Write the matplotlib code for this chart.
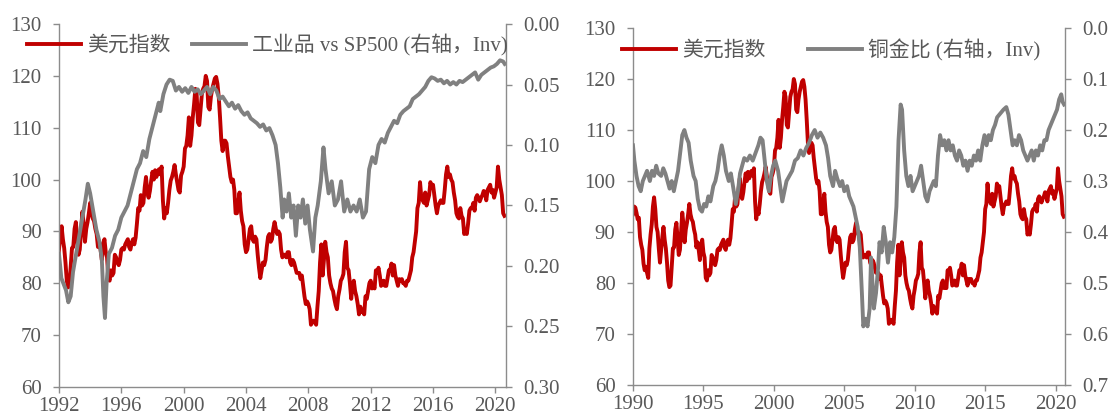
import numpy as np
import matplotlib
matplotlib.use("Agg")
import matplotlib.pyplot as plt
from matplotlib.font_manager import FontProperties
from matplotlib.ticker import FormatStrFormatter, FixedLocator

# US dollar index, monthly values starting January 1990
dxy_start = 1990.0
dxy_values = [
    93.5, 95.0, 94.8, 93.8, 92.5, 92.8, 89.0, 87.5, 86.5, 83.8, 82.5, 83.2,
    82.0, 81.0, 86.8, 89.5, 91.5, 95.0, 96.8, 94.5, 91.0, 90.0, 86.8, 84.0,
    86.5, 89.0, 91.0, 88.5, 86.8, 84.0, 80.5, 79.2, 79.5, 83.0, 86.8, 87.0,
    90.5, 91.8, 88.5, 85.5, 86.5, 90.0, 93.8, 91.5, 88.0, 90.5, 91.8, 93.5,
    95.5, 93.5, 92.5, 92.0, 90.5, 89.5, 87.0, 88.0, 86.5, 84.5, 87.5, 88.5,
    86.0, 85.0, 81.0, 80.5, 82.5, 81.5, 82.0, 85.5, 85.0, 84.0, 83.5, 84.5,
    86.5, 86.8, 86.5, 87.5, 88.0, 88.5, 87.0, 86.5, 87.8, 88.5, 87.5, 88.8,
    91.5, 94.5, 94.0, 97.0, 95.0, 95.5, 98.5, 100.5, 97.5, 96.5, 97.8, 99.8,
    101.5, 100.0, 101.8, 100.5, 101.5, 102.0, 101.0, 102.5, 96.0, 92.5, 94.5, 93.5,
    95.5, 98.0, 99.8, 100.5, 101.5, 102.8, 101.0, 99.5, 98.0, 97.5, 100.8, 101.5,
    102.5, 106.0, 106.5, 108.5, 112.0, 106.5, 108.5, 112.0, 114.5, 117.5, 116.5, 111.0,
    110.5, 113.5, 116.5, 117.5, 118.0, 120.0, 119.0, 114.0, 113.5, 116.0, 117.5, 118.5,
    119.5, 119.8, 118.5, 116.0, 112.0, 107.5, 105.5, 107.5, 107.5, 107.0, 104.5, 102.5,
    100.5, 99.5, 100.0, 98.0, 93.5, 93.5, 95.5, 97.5, 94.0, 92.0, 91.0, 87.5,
    86.0, 86.5, 88.5, 90.5, 91.0, 88.5, 88.0, 89.0, 88.5, 85.5, 83.0, 81.0,
    82.5, 84.0, 83.5, 84.5, 87.0, 89.0, 89.5, 88.0, 88.5, 90.5, 91.8, 90.5,
    89.5, 90.0, 89.5, 86.5, 85.0, 85.5, 85.5, 85.0, 86.0, 86.0, 84.0, 83.5,
    84.5, 84.0, 83.0, 82.0, 82.0, 82.0, 80.8, 81.5, 79.5, 77.5, 76.0, 76.5,
    76.0, 75.0, 72.0, 72.5, 72.8, 72.5, 72.0, 75.5, 78.5, 84.0, 87.5, 81.5,
    84.5, 88.0, 86.0, 85.0, 81.5, 80.0, 79.0, 78.5, 77.0, 75.8, 75.0, 77.5,
    78.8, 80.5, 81.0, 81.8, 86.0, 88.0, 83.0, 82.5, 80.0, 77.0, 79.5, 80.5,
    78.5, 77.5, 76.0, 74.0, 75.5, 74.5, 74.5, 74.0, 77.5, 77.0, 78.5, 80.0,
    80.5, 79.0, 79.5, 79.0, 82.5, 82.0, 83.0, 81.5, 79.5, 79.8, 80.5, 79.5,
    79.5, 81.0, 82.5, 82.5, 83.8, 81.5, 83.5, 81.5, 80.5, 79.5, 80.8, 80.5,
    80.8, 80.0, 80.0, 79.5, 80.5, 80.5, 81.5, 82.5, 85.0, 86.0, 88.0, 90.0,
    94.5, 95.5, 99.5, 96.5, 96.0, 95.5, 97.5, 95.0, 96.0, 97.0, 99.5, 98.5,
    99.0, 97.0, 95.0, 93.5, 95.0, 95.5, 96.0, 95.5, 95.5, 98.0, 101.0, 102.5,
    100.5, 101.0, 100.0, 99.5, 97.5, 96.0, 93.5, 92.8, 92.5, 94.5, 93.0, 92.5,
    89.5, 90.0, 89.5, 91.5, 94.0, 94.5, 94.5, 95.5, 94.0, 96.5, 97.0, 96.5,
    95.8, 96.5, 97.0, 97.8, 97.5, 96.0, 98.0, 98.5, 99.0, 97.5, 98.0, 96.5,
    97.5, 98.5, 102.5, 100.0, 98.5, 97.0, 93.5, 93.0,
]

# Industrial metals relative to the S&P 500 (right axis, inverted)
ind_years = [
    1992.0, 1992.15, 1992.3, 1992.45, 1992.6, 1992.75, 1992.9, 1993.1, 1993.3, 1993.5,
    1993.7, 1993.85, 1994.0, 1994.2, 1994.4, 1994.6, 1994.75, 1994.85, 1994.95, 1995.05,
    1995.2, 1995.4, 1995.6, 1995.8, 1996.0, 1996.2, 1996.4, 1996.6, 1996.8, 1997.0,
    1997.2, 1997.4, 1997.6, 1997.8, 1998.0, 1998.2, 1998.4, 1998.5, 1998.7, 1998.9,
    1999.1, 1999.3, 1999.5, 1999.7, 1999.9, 2000.1, 2000.3, 2000.5, 2000.7, 2000.9,
    2001.1, 2001.3, 2001.5, 2001.7, 2001.9, 2002.1, 2002.3, 2002.5, 2002.7, 2002.9,
    2003.1, 2003.3, 2003.5, 2003.7, 2003.9, 2004.1, 2004.3, 2004.5, 2004.7, 2004.9,
    2005.1, 2005.3, 2005.5, 2005.7, 2005.9, 2006.05, 2006.2, 2006.35, 2006.45, 2006.6,
    2006.75, 2006.9, 2007.05, 2007.2, 2007.35, 2007.5, 2007.65, 2007.8, 2007.95, 2008.1,
    2008.3, 2008.45, 2008.6, 2008.8, 2008.97, 2009.1, 2009.3, 2009.5, 2009.7, 2009.9,
    2010.1, 2010.3, 2010.5, 2010.7, 2010.9, 2011.1, 2011.3, 2011.5, 2011.7, 2011.9,
    2012.1, 2012.3, 2012.5, 2012.7, 2012.9, 2013.1, 2013.3, 2013.5, 2013.7, 2013.9,
    2014.1, 2014.3, 2014.5, 2014.7, 2014.9, 2015.1, 2015.3, 2015.5, 2015.7, 2015.9,
    2016.1, 2016.3, 2016.5, 2016.7, 2016.9, 2017.1, 2017.3, 2017.5, 2017.7, 2017.9,
    2018.1, 2018.3, 2018.5, 2018.7, 2018.9, 2019.1, 2019.3, 2019.5, 2019.7, 2019.9,
    2020.1, 2020.3, 2020.5, 2020.6,
]
ind_ratio = [
    0.190, 0.210, 0.215, 0.220, 0.230, 0.225, 0.205, 0.190, 0.175, 0.160,
    0.145, 0.132, 0.140, 0.155, 0.170, 0.180, 0.195, 0.225, 0.243, 0.215,
    0.190, 0.185, 0.175, 0.170, 0.160, 0.155, 0.150, 0.140, 0.130, 0.120,
    0.115, 0.105, 0.110, 0.095, 0.085, 0.075, 0.065, 0.072, 0.058, 0.050,
    0.046, 0.047, 0.055, 0.052, 0.056, 0.053, 0.057, 0.052, 0.056, 0.054,
    0.058, 0.055, 0.052, 0.058, 0.052, 0.055, 0.062, 0.060, 0.064, 0.068,
    0.065, 0.070, 0.067, 0.072, 0.075, 0.073, 0.078, 0.080, 0.082, 0.085,
    0.083, 0.088, 0.086, 0.092, 0.100, 0.115, 0.135, 0.160, 0.145, 0.155,
    0.140, 0.160, 0.150, 0.175, 0.150, 0.160, 0.145, 0.165, 0.150, 0.170,
    0.188, 0.160, 0.150, 0.130, 0.102, 0.120, 0.140, 0.130, 0.150, 0.145,
    0.130, 0.155, 0.145, 0.155, 0.150, 0.155, 0.145, 0.160, 0.155, 0.120,
    0.110, 0.115, 0.100, 0.095, 0.098, 0.090, 0.085, 0.080, 0.082, 0.075,
    0.072, 0.070, 0.068, 0.062, 0.060, 0.058, 0.055, 0.052, 0.047, 0.044,
    0.045, 0.047, 0.046, 0.049, 0.047, 0.050, 0.048, 0.050, 0.047, 0.048,
    0.046, 0.044, 0.042, 0.040, 0.046, 0.042, 0.040, 0.038, 0.036, 0.035,
    0.033, 0.030, 0.031, 0.033,
]

# Copper / gold ratio (right axis, inverted)
cg_years = [
    1990.0, 1990.1, 1990.25, 1990.4, 1990.55, 1990.7, 1990.85, 1991.0, 1991.2, 1991.35,
    1991.5, 1991.65, 1991.8, 1992.0, 1992.15, 1992.3, 1992.45, 1992.6, 1992.75, 1992.9,
    1993.05, 1993.2, 1993.35, 1993.5, 1993.65, 1993.8, 1993.95, 1994.1, 1994.3, 1994.45,
    1994.6, 1994.75, 1994.9, 1995.05, 1995.2, 1995.35, 1995.5, 1995.7, 1995.85, 1996.0,
    1996.15, 1996.3, 1996.45, 1996.6, 1996.8, 1996.95, 1997.1, 1997.3, 1997.45, 1997.6,
    1997.75, 1997.9, 1998.1, 1998.3, 1998.5, 1998.7, 1998.9, 1999.05, 1999.2, 1999.35,
    1999.5, 1999.65, 1999.8, 1999.95, 2000.1, 2000.3, 2000.45, 2000.6, 2000.75, 2000.9,
    2001.1, 2001.3, 2001.5, 2001.7, 2001.9, 2002.1, 2002.3, 2002.5, 2002.7, 2002.9,
    2003.1, 2003.3, 2003.5, 2003.7, 2003.85, 2004.0, 2004.2, 2004.35, 2004.5, 2004.7,
    2004.85, 2005.0, 2005.2, 2005.35, 2005.5, 2005.65, 2005.8, 2005.95, 2006.1, 2006.25,
    2006.35, 2006.5, 2006.65, 2006.8, 2006.9, 2007.0, 2007.1, 2007.25, 2007.4, 2007.5,
    2007.65, 2007.8, 2007.95, 2008.1, 2008.25, 2008.4, 2008.55, 2008.7, 2008.85, 2009.0,
    2009.1, 2009.25, 2009.4, 2009.55, 2009.7, 2009.85, 2010.0, 2010.15, 2010.3, 2010.45,
    2010.6, 2010.75, 2010.9, 2011.05, 2011.2, 2011.35, 2011.5, 2011.65, 2011.8, 2011.95,
    2012.1, 2012.25, 2012.4, 2012.55, 2012.7, 2012.85, 2013.0, 2013.15, 2013.3, 2013.45,
    2013.6, 2013.75, 2013.9, 2014.05, 2014.2, 2014.35, 2014.5, 2014.65, 2014.8, 2014.95,
    2015.1, 2015.25, 2015.4, 2015.55, 2015.7, 2015.85, 2016.0, 2016.15, 2016.3, 2016.5,
    2016.65, 2016.8, 2016.95, 2017.1, 2017.25, 2017.4, 2017.55, 2017.7, 2017.85, 2018.0,
    2018.15, 2018.3, 2018.45, 2018.6, 2018.75, 2018.9, 2019.05, 2019.2, 2019.35, 2019.5,
    2019.65, 2019.8, 2019.95, 2020.1, 2020.25, 2020.4, 2020.5, 2020.6,
]
cg_ratio = [
    0.230, 0.260, 0.290, 0.310, 0.320, 0.300, 0.290, 0.280, 0.300, 0.280,
    0.290, 0.270, 0.285, 0.290, 0.275, 0.285, 0.300, 0.315, 0.300, 0.320,
    0.300, 0.280, 0.245, 0.210, 0.200, 0.215, 0.225, 0.260, 0.290, 0.300,
    0.335, 0.355, 0.360, 0.345, 0.350, 0.330, 0.340, 0.310, 0.300, 0.280,
    0.250, 0.230, 0.250, 0.280, 0.300, 0.285, 0.310, 0.345, 0.320, 0.285,
    0.270, 0.255, 0.260, 0.250, 0.260, 0.245, 0.230, 0.215, 0.220, 0.260,
    0.300, 0.320, 0.290, 0.270, 0.260, 0.280, 0.310, 0.340, 0.320, 0.300,
    0.290, 0.280, 0.260, 0.255, 0.240, 0.250, 0.235, 0.225, 0.210, 0.200,
    0.215, 0.205, 0.215, 0.230, 0.255, 0.290, 0.310, 0.280, 0.295, 0.310,
    0.300, 0.320, 0.310, 0.330, 0.340, 0.350, 0.370, 0.390, 0.430, 0.520,
    0.585, 0.570, 0.585, 0.550, 0.450, 0.500, 0.550, 0.520, 0.470, 0.420,
    0.440, 0.390, 0.420, 0.460, 0.420, 0.440, 0.410, 0.350, 0.220, 0.150,
    0.160, 0.240, 0.290, 0.310, 0.290, 0.320, 0.310, 0.300, 0.290, 0.270,
    0.300, 0.330, 0.340, 0.320, 0.310, 0.300, 0.310, 0.250, 0.210, 0.230,
    0.220, 0.240, 0.220, 0.240, 0.230, 0.250, 0.260, 0.240, 0.250, 0.270,
    0.260, 0.280, 0.260, 0.270, 0.250, 0.260, 0.240, 0.260, 0.230, 0.210,
    0.230, 0.210, 0.220, 0.200, 0.190, 0.175, 0.170, 0.165, 0.160, 0.155,
    0.170, 0.200, 0.230, 0.220, 0.230, 0.210, 0.220, 0.240, 0.250, 0.260,
    0.250, 0.240, 0.260, 0.240, 0.250, 0.230, 0.240, 0.220, 0.220, 0.200,
    0.190, 0.180, 0.170, 0.160, 0.140, 0.130, 0.145, 0.150,
]

legend_dxy = "美元指数"
legend_ind = "工业品 vs SP500 (右轴，Inv)"
legend_cg = "铜金比 (右轴，Inv)"

RED = "#C00000"
GRAY = "#808080"
TEXT = "#595959"
SPINE = "#8C8C8C"
LW = 2.8
FS = 15

plt.rcParams["font.family"] = ["Liberation Serif", "Noto Sans CJK SC", "DejaVu Sans"]

dxy_x = dxy_start + np.arange(len(dxy_values)) / 12.0
dxy_y = np.array(dxy_values)

fig = plt.figure(figsize=(11.13, 4.19), dpi=100)


def style_axes(ax, ax2, xticks, right_ticks, right_fmt, xlim, right_lim):
    ax.set_xlim(*xlim)
    ax.set_ylim(60, 130)
    ax.yaxis.set_major_locator(FixedLocator(np.arange(60, 131, 10)))
    ax.xaxis.set_major_locator(FixedLocator(xticks))
    ax.set_xticklabels([str(t) for t in xticks])
    ax2.set_ylim(*right_lim)
    ax2.yaxis.set_major_locator(FixedLocator(right_ticks))
    ax2.yaxis.set_major_formatter(FormatStrFormatter(right_fmt))
    for a in (ax, ax2):
        for s in a.spines.values():
            s.set_color(SPINE)
            s.set_linewidth(1.0)
        a.spines["top"].set_visible(False)
    ax.spines["right"].set_visible(False)
    ax2.spines["left"].set_visible(False)
    ax2.spines["bottom"].set_visible(False)
    ax.tick_params(axis="y", direction="out", length=4.5, width=1.0, color=SPINE,
                   labelcolor=TEXT, labelsize=FS, pad=8)
    ax.tick_params(axis="x", direction="out", length=4, width=1.0, color=SPINE,
                   labelcolor=TEXT, labelsize=FS, pad=3.5)
    ax2.tick_params(axis="y", direction="out", length=4.5, width=1.0, color=SPINE,
                    labelcolor=TEXT, labelsize=FS, pad=8)


# Left panel: dollar index vs industrial metals / S&P 500
axL = fig.add_axes([0.053, 0.0764, 0.4016, 0.8663])
axL2 = axL.twinx()
l1, = axL.plot(dxy_x, dxy_y, color=RED, lw=LW, solid_joinstyle="round")
l2, = axL2.plot(ind_years, ind_ratio, color=GRAY, lw=LW, solid_joinstyle="round")
style_axes(axL, axL2, np.arange(1992, 2021, 4), np.arange(0, 0.301, 0.05), "%.2f",
           (1992, 2020.68), (0.30, 0.0))

# Right panel: dollar index vs copper / gold ratio
axR = fig.add_axes([0.5687, 0.0811, 0.3881, 0.852])
axR2 = axR.twinx()
r1, = axR.plot(dxy_x, dxy_y, color=RED, lw=LW, solid_joinstyle="round")
r2, = axR2.plot(cg_years, cg_ratio, color=GRAY, lw=LW, solid_joinstyle="round")
style_axes(axR, axR2, np.arange(1990, 2021, 5), np.arange(0, 0.701, 0.1), "%.1f",
           (1990, 2020.66), (0.7, 0.0))

prop = FontProperties(family=["Liberation Serif", "Noto Sans CJK SC"], size=FS)
fig.legend([l1, l2], [legend_dxy, legend_ind], loc="center left",
           bbox_to_anchor=(27 / 1113, 1 - 45 / 419), frameon=False, ncol=2,
           handlelength=2.6, handletextpad=0.3, columnspacing=1.0, borderpad=0,
           borderaxespad=0, prop=prop, labelcolor=TEXT)
fig.legend([r1, r2], [legend_dxy, legend_cg], loc="center left",
           bbox_to_anchor=(622 / 1113, 1 - 50 / 419), frameon=False, ncol=2,
           handlelength=2.6, handletextpad=0.3, columnspacing=2.0, borderpad=0,
           borderaxespad=0, prop=prop, labelcolor=TEXT)

fig.savefig("out.png", dpi=100)
